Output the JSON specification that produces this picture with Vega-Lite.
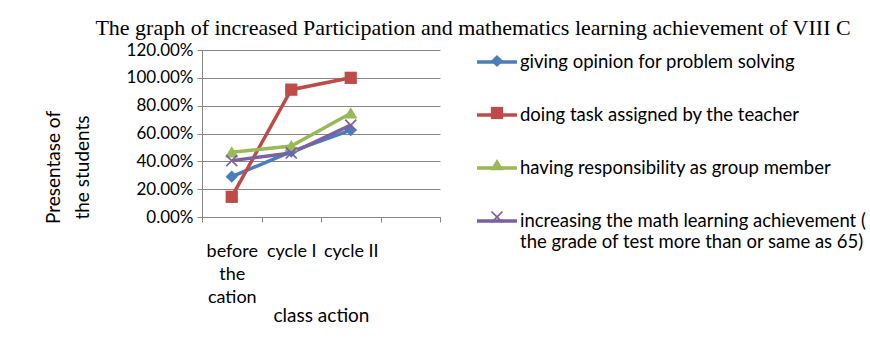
{
  "$schema": "https://vega.github.io/schema/vega-lite/v6.json",
  "width": 238,
  "height": 167,
  "autosize": "none",
  "padding": {"left": 202, "top": 50, "right": 430, "bottom": 135},
  "background": "white",
  "title": {
    "text": "The graph of increased Participation and mathematics learning achievement of VIII C",
    "font": "Liberation Serif",
    "fontSize": 22,
    "fontWeight": "normal",
    "color": "black",
    "anchor": "middle",
    "frame": "group",
    "dx": 152,
    "offset": 0
  },
  "config": {"view": {"stroke": null}, "font": "Lato"},
  "data": {
    "values": [
      {"stage": "before the cation", "series": "giving opinion for problem solving", "value": 0.29},
      {"stage": "cycle I", "series": "giving opinion for problem solving", "value": 0.47},
      {"stage": "cycle II", "series": "giving opinion for problem solving", "value": 0.625},
      {"stage": "before the cation", "series": "doing task assigned by the teacher", "value": 0.145},
      {"stage": "cycle I", "series": "doing task assigned by the teacher", "value": 0.915},
      {"stage": "cycle II", "series": "doing task assigned by the teacher", "value": 1.0},
      {"stage": "before the cation", "series": "having responsibility as group member", "value": 0.465},
      {"stage": "cycle I", "series": "having responsibility as group member", "value": 0.51},
      {"stage": "cycle II", "series": "having responsibility as group member", "value": 0.745},
      {"stage": "before the cation", "series": "increasing the math learning achievement ( the grade of  test more than or same as 65)", "value": 0.405},
      {"stage": "cycle I", "series": "increasing the math learning achievement ( the grade of  test more than or same as 65)", "value": 0.46},
      {"stage": "cycle II", "series": "increasing the math learning achievement ( the grade of  test more than or same as 65)", "value": 0.66}
    ]
  },
  "encoding": {
    "x": {
      "field": "stage",
      "type": "nominal",
      "bandPosition": 0.5,
      "scale": {"type": "band", "domain": ["before the cation", "cycle I", "cycle II", " "], "paddingInner": 0, "paddingOuter": 0},
      "axis": {
        "tickBand": "extent",
        "grid": false,
        "domainColor": "#868686",
        "tickColor": "#868686",
        "tickSize": 5,
        "labelAngle": 0,
        "labelFontSize": 18,
        "labelColor": "black",
        "labelPadding": 20,
        "labelLineHeight": 23,
        "labelExpr": "datum.value == 'before the cation' ? ['before', 'the', 'cation'] : datum.value",
        "title": "class action",
        "titleFontSize": 19,
        "titleFontWeight": "normal",
        "titleColor": "black",
        "titlePadding": 0
      }
    },
    "y": {
      "field": "value",
      "type": "quantitative",
      "scale": {"domain": [0, 1.2]},
      "axis": {
        "values": [0, 0.2, 0.4, 0.6, 0.8, 1.0, 1.2],
        "format": ".2%",
        "domainColor": "#868686",
        "tickColor": "#868686",
        "gridColor": "#868686",
        "tickSize": 5,
        "labelFontSize": 17,
        "labelColor": "black",
        "labelPadding": 4,
        "title": ["Presentase of", "the students"],
        "titleFontSize": 19,
        "titleFontWeight": "normal",
        "titleColor": "black",
        "titleLineHeight": 29,
        "titleAngle": -90,
        "titleBaseline": "top",
        "titleAlign": "center",
        "titleX": -158,
        "titleY": 117
      }
    }
  },
  "layer": [
    {
      "mark": {"type": "line", "strokeWidth": 3.5},
      "encoding": {
        "stroke": {
          "field": "series",
          "type": "nominal",
          "sort": [
            "giving opinion for problem solving",
            "doing task assigned by the teacher",
            "having responsibility as group member",
            "increasing the math learning achievement ( the grade of  test more than or same as 65)"
          ],
          "scale": {"range": ["#4A7EBB", "#BE4B48", "#98B954", "#7D60A0"]},
          "legend": {
            "orient": "none",
            "legendX": 273,
            "legendY": -10,
            "title": null,
            "symbolType": "stroke",
            "symbolSize": 1600,
            "symbolStrokeWidth": 3.5,
            "labelFontSize": 18.5,
            "labelOffset": 1,
            "labelColor": "black",
            "labelLimit": 400,
            "rowPadding": 21,
            "labelExpr": "indexof(datum.label, 'increasing') == 0 ? ['increasing the math learning achievement (', 'the grade of  test more than or same as 65)'] : datum.label"
          }
        }
      }
    },
    {
      "mark": {"type": "point", "filled": true, "opacity": 1, "size": 150},
      "encoding": {
        "color": {
          "field": "series",
          "type": "nominal",
          "scale": {
            "domain": [
              "giving opinion for problem solving",
              "doing task assigned by the teacher",
              "having responsibility as group member",
              "increasing the math learning achievement ( the grade of  test more than or same as 65)"
            ],
            "range": ["#4A7EBB", "#BE4B48", "#98B954", "#7D60A0"]
          },
          "legend": {
            "orient": "none",
            "legendX": 273,
            "legendY": 4,
            "title": null,
            "symbolSize": 150,
            "symbolOffset": 14,
            "clipHeight": 14,
            "labelFontSize": 16,
            "labelExpr": "''",
            "rowPadding": 36
          }
        },
        "shape": {
          "field": "series",
          "type": "nominal",
          "scale": {
            "domain": [
              "giving opinion for problem solving",
              "doing task assigned by the teacher",
              "having responsibility as group member",
              "increasing the math learning achievement ( the grade of  test more than or same as 65)"
            ],
            "range": ["diamond", "square", "M0,-1L1.1,0.85L-1.1,0.85Z", "M-0.8,-1L0,-0.2L0.8,-1L1,-0.8L0.2,0L1,0.8L0.8,1L0,0.2L-0.8,1L-1,0.8L-0.2,0L-1,-0.8Z"]
          },
          "legend": {
            "orient": "none",
            "legendX": 273,
            "legendY": 4,
            "title": null,
            "symbolSize": 150,
            "symbolOffset": 14,
            "clipHeight": 14,
            "labelFontSize": 16,
            "labelExpr": "''",
            "rowPadding": 36
          }
        }
      }
    }
  ]
}
